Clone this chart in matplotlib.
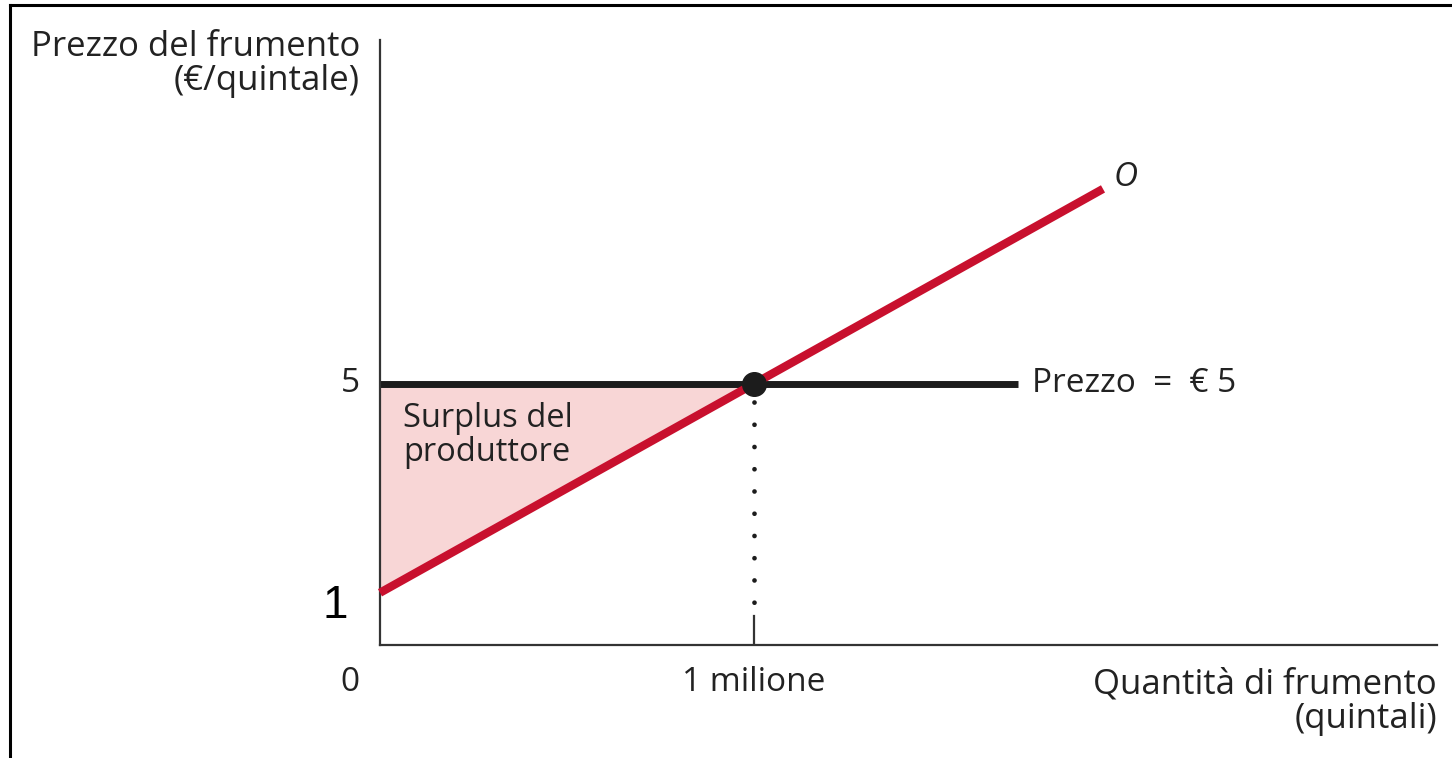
import numpy as np
import matplotlib.pyplot as plt
from matplotlib.lines import Line2D

# supply curve O (quantity in millions of quintals, price in euro/quintal)
supply_q = [0.0, 1.0, 1.933]
supply_p = [1.0, 5.0, 8.73]
price = 5.0
q_eq = 1.0
price_line_end = 1.706
x_max = 2.826
y_max = 11.58

red = '#c8102e'
pink = '#f8d6d6'
dark = '#1c1c1c'
font = 'Open Sans'
fs = 24

fig = plt.figure(figsize=(14.52, 7.58), dpi=100)
ax = fig.add_axes([380 / 1452, 1 - 645 / 758, (1437 - 380) / 1452, (645 - 40) / 758])
ax.set_xlim(0, x_max)
ax.set_ylim(0, y_max)

for s in ['top', 'right']:
    ax.spines[s].set_visible(False)
for s in ['left', 'bottom']:
    ax.spines[s].set_linewidth(1.6)
    ax.spines[s].set_color('#333333')
ax.set_xticks([])
ax.set_yticks([])

# producer surplus
ax.fill_between(supply_q[:2], supply_p[:2], price, color=pink, lw=0, zorder=1)

# price line
ax.plot([0, price_line_end], [price, price], color=dark, lw=5, solid_capstyle='butt', zorder=2)

# supply
ax.plot(supply_q, supply_p, color=red, lw=6, solid_capstyle='butt', zorder=3, clip_on=False)

# dotted drop line and tick
ax.plot([q_eq, q_eq], [price - 0.35, 0.6], color=dark, lw=3.4,
        linestyle=(0, (0.01, 4.7)), dash_capstyle='round', zorder=2)
ax.plot([q_eq, q_eq], [0, 0.55], color='#333333', lw=1.6, zorder=2)

# equilibrium point
ax.plot([q_eq], [price], 'o', color=dark, ms=17, zorder=4)

# labels
ax.text(-0.08, price, '5', ha='center', va='center', fontsize=fs, family=font, color='#222222')
ax.text(-0.08, -0.72, '0', ha='center', va='center', fontsize=fs, family=font, color='#222222')
ax.text(-0.12, 0.75, '1', ha='center', va='center', fontsize=33, family='Liberation Sans', color='black')
ax.text(q_eq, -0.72, '1 milione', ha='center', va='center', fontsize=fs, family=font, color='#222222')
ax.text(1.742, price, 'Prezzo  =  € 5', ha='left', va='center', fontsize=fs, family=font, color='#222222')
ax.text(1.96, 8.95, 'O', ha='left', va='center', fontsize=fs, family=font, style='italic', color='#222222')
ax.text(0.062, 4.66, 'Surplus del\nproduttore', ha='left', va='top', fontsize=23.5, family=font,
        color='#222222', linespacing=1.05)

fig.text(360 / 1452, 1 - 64 / 758, 'Prezzo del frumento\n(€/quintale)', ha='right', va='center',
         fontsize=25, family=font, color='#222222', linespacing=1.02)
fig.text(1437 / 1452, 1 - 702 / 758, 'Quantità di frumento\n(quintali)', ha='right', va='center',
         fontsize=25, family=font, color='#222222', linespacing=1.02)

# frame
fig.add_artist(Line2D([10 / 1452, 1.0], [1 - 5 / 758, 1 - 5 / 758], color='black', lw=2.2,
                      transform=fig.transFigure))
fig.add_artist(Line2D([10 / 1452, 10 / 1452], [0.0, 1 - 5 / 758], color='black', lw=2.2,
                      transform=fig.transFigure))

fig.savefig('out.png', dpi=100)
